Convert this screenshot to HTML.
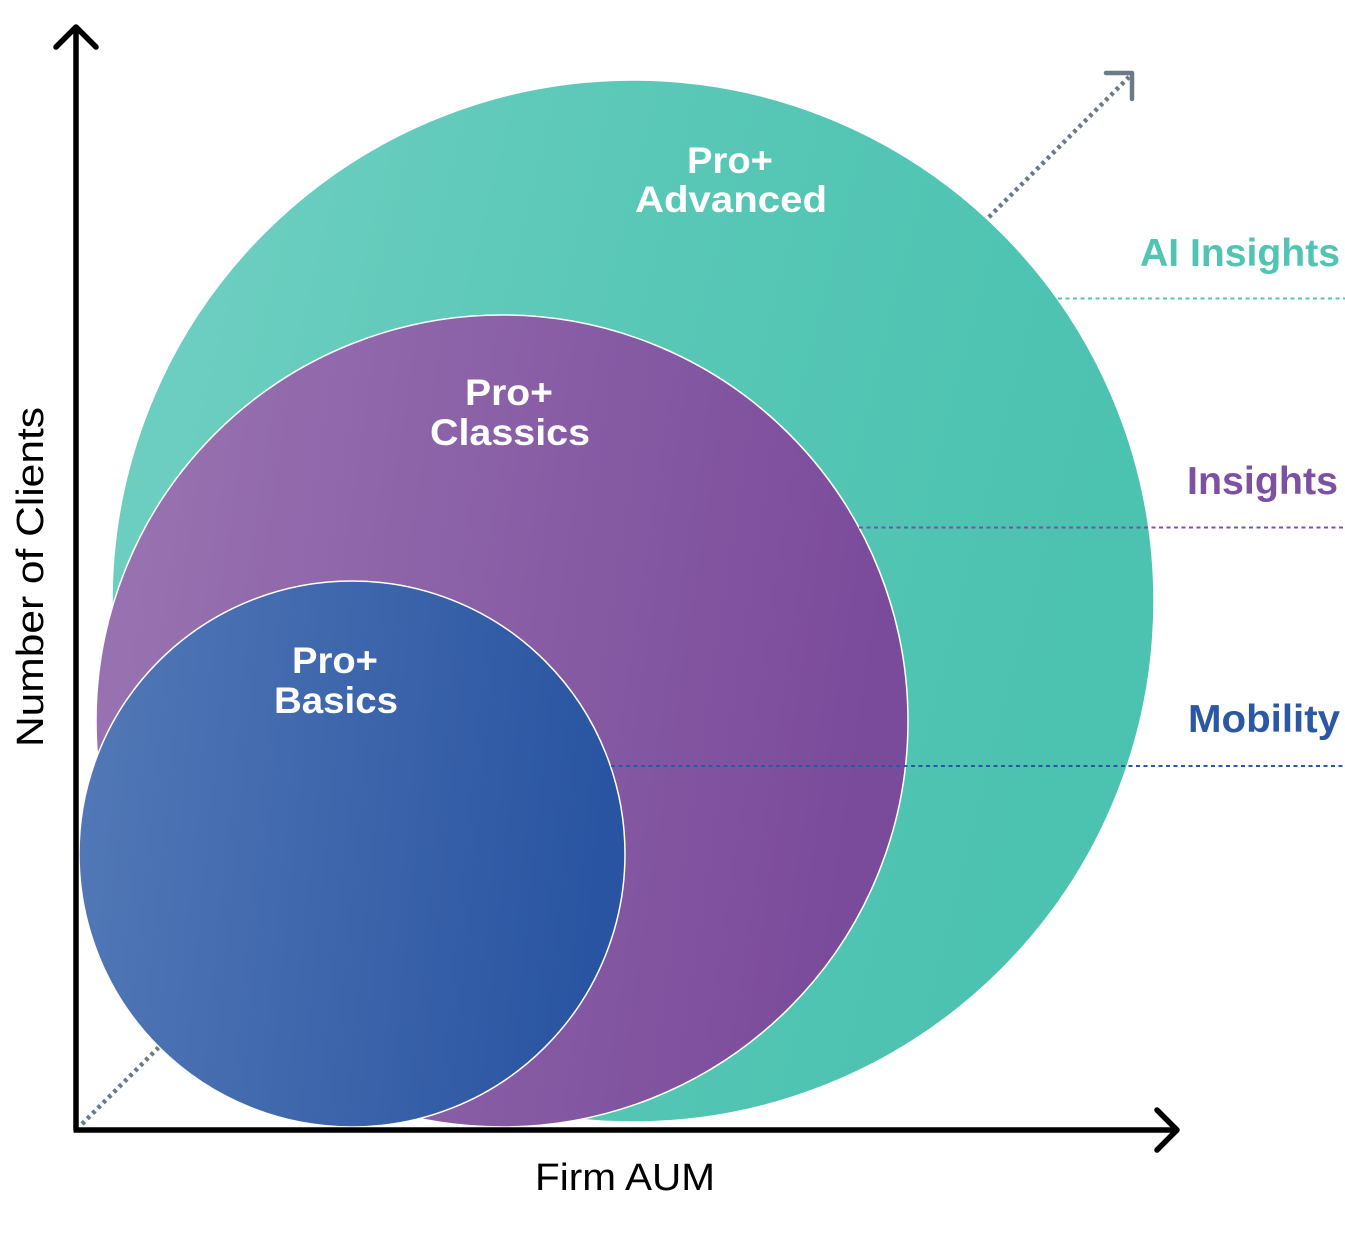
<!DOCTYPE html>
<html>
<head>
<meta charset="utf-8">
<style>
  html, body { margin: 0; padding: 0; background: #ffffff; }
  body { width: 1345px; height: 1241px; overflow: hidden; }
  svg { display: block; }
</style>
</head>
<body>
<svg width="1345" height="1241" viewBox="0 0 1345 1241" xmlns="http://www.w3.org/2000/svg">
  <defs>
    <linearGradient id="gTeal" x1="0" y1="0" x2="1" y2="0.25">
      <stop offset="0" stop-color="#72d0c3"/>
      <stop offset="0.55" stop-color="#58c7b6"/>
      <stop offset="1" stop-color="#4cc2b0"/>
    </linearGradient>
    <linearGradient id="gPurple" x1="0" y1="0" x2="1" y2="0.15">
      <stop offset="0" stop-color="#9a75b2"/>
      <stop offset="1" stop-color="#7b4b9b"/>
    </linearGradient>
    <linearGradient id="gBlue" x1="0" y1="0" x2="1" y2="0.1">
      <stop offset="0" stop-color="#5379b7"/>
      <stop offset="1" stop-color="#2954a1"/>
    </linearGradient>
  </defs>

  <!-- diagonal dotted arrow (under circles) -->
  <line x1="82" y1="1124" x2="1129" y2="77" stroke="#6c7a86" stroke-width="4.5" stroke-dasharray="3.5 4"/>
  <polyline points="1106,73 1132,73 1132,99" fill="none" stroke="#6c7a86" stroke-width="4.5" stroke-linecap="round" stroke-linejoin="round"/>

  <!-- circles -->
  <circle cx="633" cy="601" r="521" fill="url(#gTeal)" stroke="#ffffff" stroke-width="1.5"/>
  <circle cx="502" cy="721" r="406" fill="url(#gPurple)" stroke="#ffffff" stroke-width="1.5"/>
  <circle cx="352" cy="854" r="273" fill="url(#gBlue)" stroke="#ffffff" stroke-width="1.5"/>

  <!-- dotted level lines -->
  <line x1="1058" y1="298.5" x2="1345" y2="298.5" stroke="#52c4b3" stroke-width="2" stroke-dasharray="4 3.5"/>
  <line x1="859" y1="527.5" x2="1345" y2="527.5" stroke="#7d51a0" stroke-width="2" stroke-dasharray="4 3.5"/>
  <line x1="611" y1="766" x2="1345" y2="766" stroke="#2c58a3" stroke-width="2" stroke-dasharray="4 3.5"/>

  <!-- axes -->
  <line x1="76" y1="28" x2="76" y2="1130" stroke="#000" stroke-width="5.5"/>
  <line x1="73.5" y1="1130" x2="1175" y2="1130" stroke="#000" stroke-width="5.5"/>
  <polyline points="56,47 76,27 96,47" fill="none" stroke="#000" stroke-width="5.5" stroke-linecap="round" stroke-linejoin="round"/>
  <polyline points="1157,1110 1177,1130 1157,1150" fill="none" stroke="#000" stroke-width="5.5" stroke-linecap="round" stroke-linejoin="round"/>

  <!-- circle labels -->
  <g font-family="'Liberation Sans', Arial, sans-serif" font-weight="bold" fill="#ffffff" font-size="37">
    <text x="687" y="173" textLength="86" lengthAdjust="spacingAndGlyphs">Pro+</text>
    <text x="635" y="212" textLength="192" lengthAdjust="spacingAndGlyphs">Advanced</text>
    <text x="465" y="405" textLength="88" lengthAdjust="spacingAndGlyphs">Pro+</text>
    <text x="430" y="445" textLength="160" lengthAdjust="spacingAndGlyphs">Classics</text>
    <text x="292" y="673" textLength="86" lengthAdjust="spacingAndGlyphs">Pro+</text>
    <text x="274" y="713" textLength="124" lengthAdjust="spacingAndGlyphs">Basics</text>
  </g>

  <!-- right labels -->
  <g font-family="'Liberation Sans', Arial, sans-serif" font-weight="bold" font-size="39">
    <text x="1140" y="266" fill="#52c4b3" textLength="200" lengthAdjust="spacingAndGlyphs">AI Insights</text>
    <text x="1187" y="494" fill="#7d51a0" textLength="151" lengthAdjust="spacingAndGlyphs">Insights</text>
    <text x="1188" y="732" fill="#2c58a3" textLength="152" lengthAdjust="spacingAndGlyphs">Mobility</text>
  </g>

  <!-- axis titles -->
  <g font-family="'Liberation Sans', Arial, sans-serif" fill="#000" font-size="38">
    <text x="535" y="1190" textLength="180" lengthAdjust="spacingAndGlyphs">Firm AUM</text>
    <text transform="translate(43,747) rotate(-90)" textLength="340" lengthAdjust="spacingAndGlyphs">Number of Clients</text>
  </g>
</svg>
</body>
</html>
